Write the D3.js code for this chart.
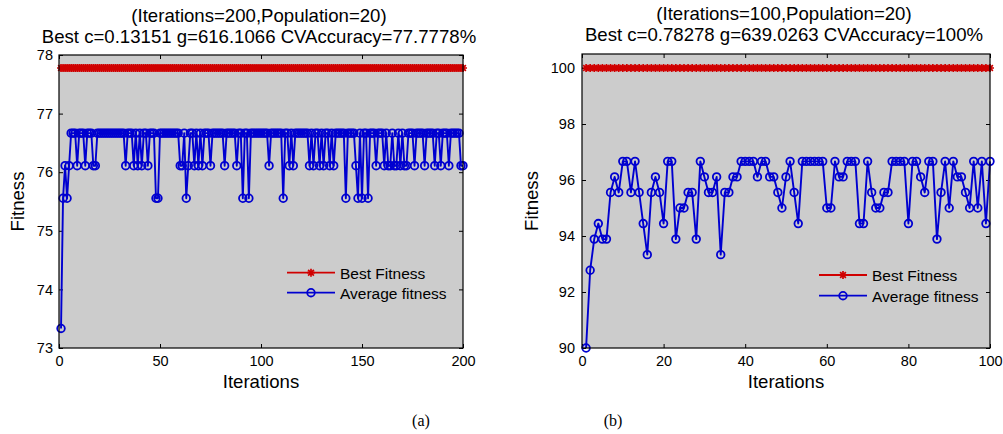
<!DOCTYPE html>
<html>
<head>
<meta charset="utf-8">
<script src="https://cdn.jsdelivr.net/npm/d3@7/dist/d3.min.js"></script>
<style>
  body { margin: 0; background: #fff; }
  svg text { font-family: "Liberation Sans", Arial, sans-serif; fill: #000; }
</style>
</head>
<body>
<svg id="chart" width="1003" height="434"></svg>
<script>
// ---- data ----
// panel (a): 200 iterations
var avgA = [
  73.3333, 75.5556, 76.1111, 75.5556, 76.1111, 76.6667, 76.6667, 76.6667, 76.1111, 76.6667,
  76.6667, 76.6667, 76.1111, 76.6667, 76.6667, 76.6667, 76.1111, 76.1111, 76.6667, 76.6667,
  76.6667, 76.6667, 76.6667, 76.6667, 76.6667, 76.6667, 76.6667, 76.6667, 76.6667, 76.6667,
  76.6667, 76.6667, 76.1111, 76.6667, 76.6667, 76.6667, 76.1111, 76.6667, 76.1111, 76.6667,
  76.1111, 76.6667, 76.6667, 76.1111, 76.6667, 76.6667, 76.6667, 75.5556, 75.5556, 76.6667,
  76.6667, 76.6667, 76.6667, 76.6667, 76.6667, 76.6667, 76.6667, 76.6667, 76.6667, 76.1111,
  76.1111, 76.6667, 75.5556, 76.1111, 76.6667, 76.6667, 76.1111, 76.6667, 76.1111, 76.6667,
  76.1111, 76.6667, 76.6667, 76.6667, 76.1111, 76.6667, 76.6667, 76.6667, 76.6667, 76.6667,
  76.6667, 76.1111, 76.6667, 76.6667, 76.6667, 76.6667, 76.6667, 76.1111, 76.6667, 76.6667,
  75.5556, 76.6667, 76.6667, 75.5556, 76.6667, 76.6667, 76.6667, 76.6667, 76.6667, 76.6667,
  76.6667, 76.6667, 76.6667, 76.1111, 76.6667, 76.6667, 76.6667, 76.6667, 76.6667, 76.6667,
  75.5556, 76.6667, 76.6667, 76.1111, 76.6667, 76.1111, 76.6667, 76.6667, 76.6667, 76.6667,
  76.6667, 76.6667, 76.6667, 76.1111, 76.6667, 76.1111, 76.6667, 76.6667, 76.1111, 76.6667,
  76.1111, 76.6667, 76.6667, 76.1111, 76.6667, 76.1111, 76.6667, 76.6667, 76.6667, 76.6667,
  76.6667, 75.5556, 76.6667, 76.6667, 76.6667, 76.6667, 76.1111, 75.5556, 76.6667, 75.5556,
  76.6667, 76.6667, 75.5556, 76.6667, 76.6667, 76.6667, 76.1111, 76.6667, 76.6667, 76.6667,
  76.1111, 76.6667, 76.1111, 76.1111, 76.6667, 76.1111, 76.1111, 76.6667, 76.1111, 76.6667,
  76.1111, 76.1111, 76.6667, 76.6667, 76.6667, 76.1111, 76.6667, 76.6667, 76.6667, 76.6667,
  76.1111, 76.6667, 76.6667, 76.6667, 76.6667, 76.1111, 76.6667, 76.6667, 76.1111, 76.6667,
  76.6667, 76.6667, 76.1111, 76.6667, 76.6667, 76.6667, 76.6667, 76.6667, 76.1111, 76.1111
];
var bestA = [
  77.7778, 77.7778, 77.7778, 77.7778, 77.7778, 77.7778, 77.7778, 77.7778, 77.7778, 77.7778,
  77.7778, 77.7778, 77.7778, 77.7778, 77.7778, 77.7778, 77.7778, 77.7778, 77.7778, 77.7778,
  77.7778, 77.7778, 77.7778, 77.7778, 77.7778, 77.7778, 77.7778, 77.7778, 77.7778, 77.7778,
  77.7778, 77.7778, 77.7778, 77.7778, 77.7778, 77.7778, 77.7778, 77.7778, 77.7778, 77.7778,
  77.7778, 77.7778, 77.7778, 77.7778, 77.7778, 77.7778, 77.7778, 77.7778, 77.7778, 77.7778,
  77.7778, 77.7778, 77.7778, 77.7778, 77.7778, 77.7778, 77.7778, 77.7778, 77.7778, 77.7778,
  77.7778, 77.7778, 77.7778, 77.7778, 77.7778, 77.7778, 77.7778, 77.7778, 77.7778, 77.7778,
  77.7778, 77.7778, 77.7778, 77.7778, 77.7778, 77.7778, 77.7778, 77.7778, 77.7778, 77.7778,
  77.7778, 77.7778, 77.7778, 77.7778, 77.7778, 77.7778, 77.7778, 77.7778, 77.7778, 77.7778,
  77.7778, 77.7778, 77.7778, 77.7778, 77.7778, 77.7778, 77.7778, 77.7778, 77.7778, 77.7778,
  77.7778, 77.7778, 77.7778, 77.7778, 77.7778, 77.7778, 77.7778, 77.7778, 77.7778, 77.7778,
  77.7778, 77.7778, 77.7778, 77.7778, 77.7778, 77.7778, 77.7778, 77.7778, 77.7778, 77.7778,
  77.7778, 77.7778, 77.7778, 77.7778, 77.7778, 77.7778, 77.7778, 77.7778, 77.7778, 77.7778,
  77.7778, 77.7778, 77.7778, 77.7778, 77.7778, 77.7778, 77.7778, 77.7778, 77.7778, 77.7778,
  77.7778, 77.7778, 77.7778, 77.7778, 77.7778, 77.7778, 77.7778, 77.7778, 77.7778, 77.7778,
  77.7778, 77.7778, 77.7778, 77.7778, 77.7778, 77.7778, 77.7778, 77.7778, 77.7778, 77.7778,
  77.7778, 77.7778, 77.7778, 77.7778, 77.7778, 77.7778, 77.7778, 77.7778, 77.7778, 77.7778,
  77.7778, 77.7778, 77.7778, 77.7778, 77.7778, 77.7778, 77.7778, 77.7778, 77.7778, 77.7778,
  77.7778, 77.7778, 77.7778, 77.7778, 77.7778, 77.7778, 77.7778, 77.7778, 77.7778, 77.7778,
  77.7778, 77.7778, 77.7778, 77.7778, 77.7778, 77.7778, 77.7778, 77.7778, 77.7778, 77.7778
];
var xTicksA = [0, 50, 100, 150, 200];
var yTicksA = [73, 74, 75, 76, 77, 78];
var titleA = ["(Iterations=200,Population=20)", "Best c=0.13151 g=616.1066 CVAccuracy=77.7778%"];

// panel (b): 100 iterations
var avgB = [
  90.0000, 92.7778, 93.8889, 94.4444, 93.8889, 93.8889, 95.5556, 96.1111, 95.5556, 96.6667,
  96.6667, 95.5556, 96.6667, 95.5556, 94.4444, 93.3333, 95.5556, 96.1111, 95.5556, 94.4444,
  96.6667, 96.6667, 93.8889, 95.0000, 95.0000, 95.5556, 95.5556, 93.8889, 96.6667, 96.1111,
  95.5556, 95.5556, 96.1111, 93.3333, 95.5556, 95.5556, 96.1111, 96.1111, 96.6667, 96.6667,
  96.6667, 96.6667, 96.1111, 96.6667, 96.6667, 96.1111, 96.1111, 95.5556, 95.0000, 96.1111,
  96.6667, 95.5556, 94.4444, 96.6667, 96.6667, 96.6667, 96.6667, 96.6667, 96.6667, 95.0000,
  95.0000, 96.6667, 96.1111, 96.1111, 96.6667, 96.6667, 96.6667, 94.4444, 94.4444, 96.6667,
  95.5556, 95.0000, 95.0000, 95.5556, 95.5556, 96.6667, 96.6667, 96.6667, 96.6667, 94.4444,
  96.6667, 96.6667, 96.1111, 95.5556, 96.6667, 96.6667, 93.8889, 95.5556, 96.6667, 95.0000,
  96.6667, 96.1111, 96.1111, 95.5556, 95.0000, 96.6667, 95.0000, 96.6667, 94.4444, 96.6667
];
var bestB = [
  100, 100, 100, 100, 100, 100, 100, 100, 100, 100,
  100, 100, 100, 100, 100, 100, 100, 100, 100, 100,
  100, 100, 100, 100, 100, 100, 100, 100, 100, 100,
  100, 100, 100, 100, 100, 100, 100, 100, 100, 100,
  100, 100, 100, 100, 100, 100, 100, 100, 100, 100,
  100, 100, 100, 100, 100, 100, 100, 100, 100, 100,
  100, 100, 100, 100, 100, 100, 100, 100, 100, 100,
  100, 100, 100, 100, 100, 100, 100, 100, 100, 100,
  100, 100, 100, 100, 100, 100, 100, 100, 100, 100,
  100, 100, 100, 100, 100, 100, 100, 100, 100, 100
];
var xTicksB = [0, 20, 40, 60, 80, 100];
var yTicksB = [90, 92, 94, 96, 98, 100];
var titleB = ["(Iterations=100,Population=20)", "Best c=0.78278 g=639.0263 CVAccuracy=100%"];

var legendNames = ["Best Fitness", "Average fitness"];
var captions = ["(a)", "(b)"];

var RED = "#d00000", BLUE = "#0000d0";

var svg = d3.select("#chart");

// matlab-ish '*' marker: plus and cross
function asterisk(x, y, s) {
  var d = s * 0.72;
  return "M" + (x - s) + "," + y + "h" + (2 * s) +
         "M" + x + "," + (y - s) + "v" + (2 * s) +
         "M" + (x - d) + "," + (y - d) + "l" + (2 * d) + "," + (2 * d) +
         "M" + (x - d) + "," + (y + d) + "l" + (2 * d) + "," + (-2 * d);
}

function drawPanel(p) {
  var x = d3.scaleLinear().domain(p.xDomain).range([p.left, p.right]),
      y = d3.scaleLinear().domain(p.yDomain).range([p.bottom, p.top]);

  var g = svg.append("g");

  g.append("rect")
    .attr("x", p.left).attr("y", p.top)
    .attr("width", p.right - p.left).attr("height", p.bottom - p.top)
    .attr("fill", "#cccccc");

  // ticks pointing inwards on all four sides
  var fmt = d3.format("d");
  var axB = d3.axisBottom(x).tickValues(p.xTicks).tickSize(-4).tickPadding(8).tickFormat(fmt);
  var axT = d3.axisTop(x).tickValues(p.xTicks).tickSize(-4).tickFormat("");
  var axL = d3.axisLeft(y).tickValues(p.yTicks).tickSize(-4).tickPadding(p.yPad).tickFormat(fmt);
  var axR = d3.axisRight(y).tickValues(p.yTicks).tickSize(-4).tickFormat("");

  [[axB, "translate(0," + p.bottom + ")"], [axT, "translate(0," + p.top + ")"],
   [axL, "translate(" + p.left + ",0)"], [axR, "translate(" + p.right + ",0)"]].forEach(function (a) {
    var ag = g.append("g").attr("transform", a[1]).call(a[0]);
    ag.select(".domain").remove();
    ag.selectAll("line").attr("stroke", "#000").attr("stroke-width", 1);
    ag.selectAll("text").attr("font-size", "14.5px")
      .attr("font-family", "Liberation Sans, Arial, sans-serif").attr("fill", "#000");
  });

  // best fitness (red line + asterisks)
  var line = d3.line().x(function (d, i) { return x(i + 1); }).y(function (d) { return y(d); });

  g.append("path").datum(p.best)
    .attr("d", line).attr("fill", "none").attr("stroke", RED).attr("stroke-width", 1.8);
  g.append("path")
    .attr("d", p.best.map(function (d, i) { return asterisk(x(i + 1), y(d), 4); }).join(""))
    .attr("fill", "none").attr("stroke", RED).attr("stroke-width", 1.7);

  // average fitness (blue line + circles)
  g.append("path").datum(p.avg)
    .attr("d", line).attr("fill", "none").attr("stroke", BLUE).attr("stroke-width", 1.9)
    .attr("stroke-linejoin", "round");
  g.selectAll("circle.avg").data(p.avg).enter().append("circle")
    .attr("class", "avg")
    .attr("cx", function (d, i) { return x(i + 1); })
    .attr("cy", function (d) { return y(d); })
    .attr("r", 3.8)
    .attr("fill", "none").attr("stroke", BLUE).attr("stroke-width", 1.8);

  // box
  g.append("rect")
    .attr("x", p.left).attr("y", p.top)
    .attr("width", p.right - p.left).attr("height", p.bottom - p.top)
    .attr("fill", "none").attr("stroke", "#000").attr("stroke-width", 1.2);

  // titles
  var cx = (p.left + p.right) / 2 - 2;
  p.title.forEach(function (t, i) {
    g.append("text").attr("x", cx).attr("y", p.titleY[i])
      .attr("text-anchor", "middle").attr("font-size", "18.6px").text(t);
  });

  g.append("text").attr("x", (p.left + p.right) / 2).attr("y", 388)
    .attr("text-anchor", "middle").attr("font-size", "18.6px").text("Iterations");
  g.append("text")
    .attr("transform", "translate(" + p.ylabX + "," + ((p.top + p.bottom) / 2) + ") rotate(-90)")
    .attr("text-anchor", "middle").attr("font-size", "18.6px").text("Fitness");

  // legend (no frame)
  var lg = g.append("g");
  [RED, BLUE].forEach(function (c, i) {
    var ly = p.legY[i];
    lg.append("line").attr("x1", p.legX).attr("x2", p.legX + 48)
      .attr("y1", ly).attr("y2", ly).attr("stroke", c).attr("stroke-width", 1.8);
    if (i === 0) {
      lg.append("path").attr("d", asterisk(p.legX + 24, ly, 4))
        .attr("stroke", c).attr("stroke-width", 1.7).attr("fill", "none");
    } else {
      lg.append("circle").attr("cx", p.legX + 24).attr("cy", ly).attr("r", 3.8)
        .attr("fill", "none").attr("stroke", c).attr("stroke-width", 1.8);
    }
    lg.append("text").attr("x", p.legX + 53).attr("y", ly + 6)
      .attr("font-size", "15.5px").text(legendNames[i]);
  });
}

drawPanel({
  left: 59, right: 463, top: 55, bottom: 348,
  xDomain: [0, 200], yDomain: [73, 78],
  xTicks: xTicksA, yTicks: yTicksA, yPad: 6,
  best: bestA, avg: avgA, title: titleA, titleY: [22, 43],
  ylabX: 24, legX: 287, legY: [272.7, 292.7]
});

drawPanel({
  left: 582, right: 990, top: 54, bottom: 348,
  xDomain: [0, 100], yDomain: [90, 100.5],
  xTicks: xTicksB, yTicks: yTicksB, yPad: 7,
  best: bestB, avg: avgB, title: titleB, titleY: [20, 41],
  ylabX: 538, legX: 819, legY: [275, 295.7]
});

svg.selectAll("text.cap").data(captions).enter().append("text")
  .attr("class", "cap")
  .attr("x", function (d, i) { return [421, 613][i]; })
  .attr("y", 426)
  .attr("text-anchor", "middle")
  .style("font-family", "'Liberation Serif', 'Times New Roman', serif")
  .attr("font-size", "16px")
  .text(function (d) { return d; });
</script>
</body>
</html>
